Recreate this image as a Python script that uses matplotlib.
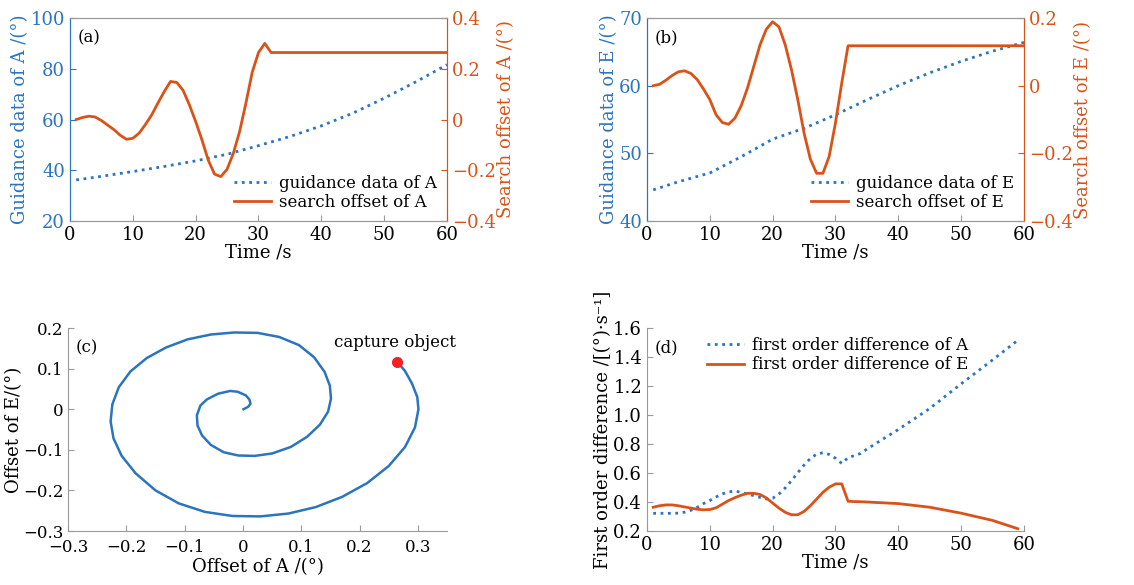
import matplotlib

matplotlib.use("Agg")
import matplotlib.pyplot as plt
from matplotlib.lines import Line2D
from matplotlib.ticker import FuncFormatter

plt.rcParams["font.family"] = ["DejaVu Serif"]
plt.rcParams["font.size"] = 13
plt.rcParams["axes.unicode_minus"] = True

BLUE = "#2B74BE"
ORANGE = "#D95319"
SPINE = "#9a9a9a"

# --- (a)/(b) guidance data ---
t_guide = [1, 5, 10, 15, 20, 25, 30, 35, 40, 45, 50, 55, 60]
guide_a = [36.2, 37.6, 39.5, 41.5, 43.7, 46.3, 49.7, 53.3, 57.5, 62.5, 68.4, 74.8, 81.6]
guide_e = [44.6, 45.8, 47.1, 49.5, 52.1, 53.7, 55.7, 57.9, 60.0, 61.9, 63.6, 65.1, 66.4]

# --- (a)/(b) search offsets ---
t_off = list(range(1, 33)) + [60]
off_a = [0.0, 0.008, 0.013, 0.010, -0.004, -0.022, -0.040, -0.062, -0.078, -0.074,
         -0.054, -0.020, 0.018, 0.065, 0.110, 0.150, 0.146, 0.115, 0.058, -0.008,
         -0.080, -0.160, -0.215, -0.225, -0.196, -0.133, -0.047, 0.065, 0.186, 0.264,
         0.300, 0.264, 0.264]
off_e = [0.0, 0.004, 0.016, 0.030, 0.041, 0.044, 0.036, 0.018, -0.010, -0.041,
         -0.086, -0.109, -0.114, -0.096, -0.059, -0.007, 0.057, 0.121, 0.167, 0.189,
         0.174, 0.121, 0.047, -0.041, -0.140, -0.217, -0.259, -0.259, -0.209, -0.110,
         0.008, 0.118, 0.118]

# --- (c) spiral trace ---
spiral_x = [0.001, 0.009, 0.013, 0.011, 0.005, -0.009, -0.022, -0.043, -0.062, -0.073,
            -0.079, -0.078, -0.070, -0.055, -0.033, -0.008, 0.020, 0.050, 0.082, 0.110,
            0.132, 0.146, 0.151, 0.149, 0.140, 0.122, 0.096, 0.062, 0.025, -0.015,
            -0.055, -0.095, -0.132, -0.165, -0.193, -0.213, -0.224, -0.227, -0.222, -0.208,
            -0.184, -0.150, -0.110, -0.065, -0.018, 0.030, 0.078, 0.125, 0.170, 0.213,
            0.250, 0.278, 0.295, 0.301, 0.299, 0.290, 0.278, 0.2645]
spiral_y = [0.000, 0.006, 0.014, 0.024, 0.034, 0.043, 0.045, 0.038, 0.024, 0.009,
            -0.015, -0.040, -0.065, -0.088, -0.106, -0.114, -0.115, -0.109, -0.093, -0.068,
            -0.038, -0.006, 0.026, 0.058, 0.092, 0.128, 0.158, 0.178, 0.188, 0.189,
            0.184, 0.172, 0.152, 0.126, 0.093, 0.054, 0.012, -0.030, -0.072, -0.115,
            -0.158, -0.200, -0.232, -0.253, -0.263, -0.264, -0.257, -0.241, -0.216, -0.182,
            -0.140, -0.093, -0.045, 0.000, 0.030, 0.063, 0.094, 0.117]
capture = (0.2645, 0.117)

# --- (d) first order difference ---
t_diff = list(range(1, 36)) + [40, 45, 50, 55, 59]
diff_a = [0.322, 0.322, 0.322, 0.322, 0.323, 0.330, 0.343, 0.363, 0.389, 0.410,
          0.435, 0.456, 0.470, 0.475, 0.467, 0.455, 0.444, 0.432, 0.421, 0.426,
          0.455, 0.497, 0.547, 0.602, 0.655, 0.700, 0.730, 0.740, 0.728, 0.702,
          0.666, 0.706, 0.720, 0.735, 0.765, 0.900, 1.045, 1.215, 1.380, 1.515]
diff_e = [0.364, 0.374, 0.380, 0.380, 0.374, 0.366, 0.358, 0.350, 0.346, 0.348,
          0.360, 0.385, 0.410, 0.430, 0.447, 0.460, 0.460, 0.452, 0.428, 0.393,
          0.358, 0.329, 0.312, 0.312, 0.335, 0.374, 0.420, 0.467, 0.502, 0.525,
          0.525, 0.405, 0.403, 0.402, 0.400, 0.389, 0.364, 0.323, 0.273, 0.216]


def fmt(v, pos):
    if abs(v) < 1e-9:
        return "0"
    return f"{v:.1f}".replace("-", "\u2212")


def style_twin(ax, ax2):
    ax.tick_params(direction="in", length=4, top=False)
    ax.tick_params(axis="y", colors=BLUE)
    ax.tick_params(axis="x", colors=SPINE, labelcolor="black")
    ax2.tick_params(direction="in", length=4, axis="y", colors=ORANGE)
    for a in (ax, ax2):
        a.spines["left"].set_color(BLUE)
        a.spines["right"].set_color(ORANGE)
        a.spines["top"].set_color(SPINE)
        a.spines["bottom"].set_color(SPINE)
    ax2.yaxis.set_major_formatter(FuncFormatter(fmt))


def legend_twin(ax2, labels):
    handles = [Line2D([], [], ls=":", color=BLUE, lw=2), Line2D([], [], color=ORANGE, lw=2)]
    ax2.legend(handles, labels, loc="lower right", frameon=False, fontsize=12,
               handlelength=2.2, handletextpad=0.5, labelspacing=0.15, borderaxespad=0.2)


fig = plt.figure(figsize=(11.34, 5.85), dpi=100)
ax_a = fig.add_axes([0.0617, 0.6222, 0.3325, 0.347])
ax_b = fig.add_axes([0.5705, 0.6222, 0.3325, 0.347])
ax_c = fig.add_axes([0.0600, 0.0923, 0.3342, 0.347])
ax_d = fig.add_axes([0.5705, 0.0923, 0.3325, 0.347])

# (a)
ax_a.plot(t_guide, guide_a, ":", color=BLUE, lw=2)
ax_a.set_xlim(0, 60)
ax_a.set_ylim(20, 100)
ax_a.set_yticks([20, 40, 60, 80, 100])
ax_a.set_xlabel("Time /s", labelpad=0)
ax_a.set_ylabel("Guidance data of A /(°)", color=BLUE, labelpad=1)
a2 = ax_a.twinx()
a2.plot(t_off, off_a, "-", color=ORANGE, lw=2)
a2.set_ylim(-0.4, 0.4)
a2.set_yticks([-0.4, -0.2, 0, 0.2, 0.4])
a2.set_ylabel("Search offset of A /(°)", color=ORANGE, labelpad=1)
style_twin(ax_a, a2)
ax_a.text(0.02, 0.9, "(a)", transform=ax_a.transAxes, va="center", fontsize=12)
legend_twin(a2, ["guidance data of A", "search offset of A"])

# (b)
ax_b.plot(t_guide, guide_e, ":", color=BLUE, lw=2)
ax_b.set_xlim(0, 60)
ax_b.set_ylim(40, 70)
ax_b.set_yticks([40, 50, 60, 70])
ax_b.set_xlabel("Time /s", labelpad=0)
ax_b.set_ylabel("Guidance data of E /(°)", color=BLUE, labelpad=1)
b2 = ax_b.twinx()
b2.plot(t_off, off_e, "-", color=ORANGE, lw=2)
b2.set_ylim(-0.4, 0.2)
b2.set_yticks([-0.4, -0.2, 0, 0.2])
b2.set_ylabel("Search offset of E /(°)", color=ORANGE, labelpad=1)
style_twin(ax_b, b2)
ax_b.text(0.02, 0.9, "(b)", transform=ax_b.transAxes, va="center", fontsize=12)
legend_twin(b2, ["guidance data of E", "search offset of E"])

# (c)
ax_c.plot(spiral_x, spiral_y, "-", color=BLUE, lw=1.8, solid_joinstyle="round")
ax_c.plot([capture[0]], [capture[1]], "o", color="#F22222", ms=7)
ax_c.text(capture[0] - 0.003, 0.165, "capture object", ha="center", va="center",
          fontsize=12)
ax_c.set_xlim(-0.3, 0.35)
ax_c.set_ylim(-0.3, 0.2)
ax_c.set_xticks([-0.3, -0.2, -0.1, 0, 0.1, 0.2, 0.3])
ax_c.set_yticks([-0.3, -0.2, -0.1, 0, 0.1, 0.2])
ax_c.xaxis.set_major_formatter(FuncFormatter(fmt))
ax_c.yaxis.set_major_formatter(FuncFormatter(fmt))
ax_c.set_xlabel("Offset of A /(°)", labelpad=1)
ax_c.set_ylabel("Offset of E/(°)")
ax_c.yaxis.set_label_coords(-0.118, 0.5)
ax_c.text(0.02, 0.9, "(c)", transform=ax_c.transAxes, va="center", fontsize=12)

# (d)
ax_d.plot(t_diff, diff_a, ":", color=BLUE, lw=2, label="first order difference of A")
ax_d.plot(t_diff, diff_e, "-", color=ORANGE, lw=2, label="first order difference of E")
ax_d.set_xlim(0, 60)
ax_d.set_ylim(0.2, 1.6)
ax_d.set_yticks([0.2, 0.4, 0.6, 0.8, 1.0, 1.2, 1.4, 1.6])
ax_d.yaxis.set_major_formatter(FuncFormatter(lambda v, p: f"{v:.1f}"))
ax_d.set_xlabel("Time /s", labelpad=0)
ax_d.set_ylabel("First order difference /[(°)·s⁻¹]", labelpad=1)
ax_d.text(0.02, 0.9, "(d)", transform=ax_d.transAxes, va="center", fontsize=12)
ax_d.legend(loc="upper left", bbox_to_anchor=(0.12, 1.03), frameon=False, fontsize=12,
            handlelength=2.2, handletextpad=0.5, labelspacing=0.15)

for ax in (ax_c, ax_d):
    ax.spines["top"].set_visible(False)
    ax.spines["right"].set_visible(False)
    ax.spines["left"].set_color(SPINE)
    ax.spines["bottom"].set_color(SPINE)
    ax.tick_params(direction="in", length=4, colors=SPINE, labelcolor="black")
ax_c.tick_params(labelsize=12)
ax_c.tick_params(axis="x", pad=6)

fig.savefig("out.png", dpi=100)
